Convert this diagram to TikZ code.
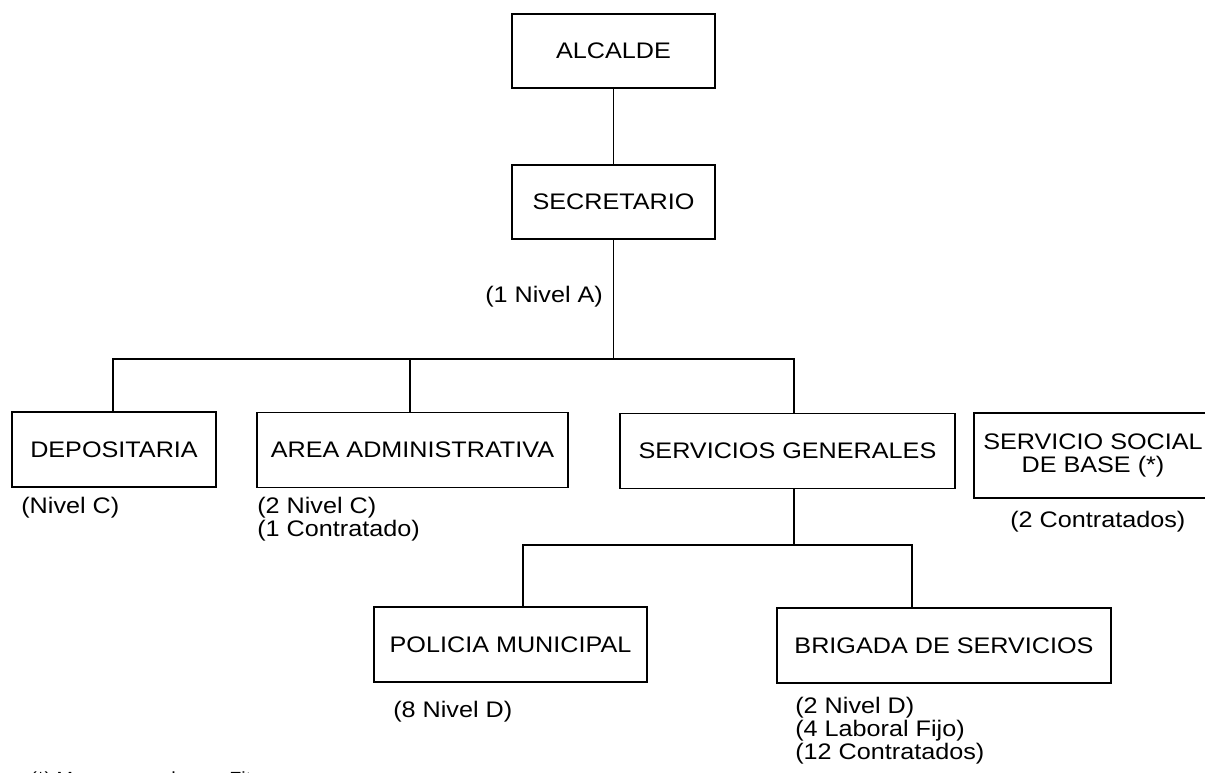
\documentclass[tikz,border=0pt]{standalone}
\usepackage{fontspec}
\setmainfont{Liberation Sans}[FakeStretch=1.12]
\usetikzlibrary{calc}

\begin{document}
\begin{tikzpicture}[x=0.02cm,y=-0.02cm,
  font=\fontsize{12.8}{13.1}\selectfont,
  caja/.style={draw, line width=1pt, inner sep=0pt, align=center, minimum height=1.5cm},
  dato/.style={anchor=west, inner sep=0pt, align=left},
  linea/.style={line width=1pt}]

\useasboundingbox (0,0) rectangle (1205,773);

% cajas
\node[caja, minimum width=4.06cm, minimum height=1.48cm] (alcalde) at (613.5,51) {ALCALDE};
\node[caja, minimum width=4.06cm, minimum height=1.48cm] (secretario) at (613.5,202) {SECRETARIO};

\node[caja, minimum width=4.08cm] (depositaria) at (114,449.5) {DEPOSITARIA};
\node[caja, minimum width=6.22cm] (area) at (412.5,450) {AREA ADMINISTRATIVA};
\node[caja, minimum width=6.7cm] (servicios) at (787.5,451) {SERVICIOS GENERALES};
\node[caja, minimum width=4.76cm, minimum height=1.7cm] (social) at (1093,455.5) {SERVICIO SOCIAL\\DE BASE (*)};

\node[caja, minimum width=5.46cm] (policia) at (510.5,644.5) {POLICIA MUNICIPAL};
\node[caja, minimum width=6.68cm] (brigada) at (944,645.5) {BRIGADA DE SERVICIOS};

% personal
\node[dato] (nivelA) at (485,297) {(1 Nivel A)};
\node[dato] (depnivel) at (21,508) {(Nivel C)};
\node[dato] (areanivel) at (257,519.5) {(2 Nivel C)\\(1 Contratado)};
\node[dato] (socialnivel) at (1010,522) {(2 Contratados)};
\node[dato] (policianivel) at (393,712) {(8 Nivel D)};
\node[dato] (brigadanivel) at (795,730.5) {(2 Nivel D)\\(4 Laboral Fijo)\\(12 Contratados)};
\node[dato, anchor=base west, font=\fontsize{10}{12}\selectfont] (nota) at (30,785) {(*) Mancomunado con Fitero};

% lineas
\coordinate (bus) at (613.5,359);
\coordinate (d1) at (113,359);
\coordinate (d2) at (410,359);
\coordinate (d3) at (794,359);
\coordinate (e0) at (794,545);
\coordinate (e1) at (523,545);
\coordinate (e2) at (912,545);

\draw[linea] (alcalde) -- (secretario);
\draw[linea] (secretario) -- (bus);
\draw[linea] (d1 |- depositaria.north) -- (d1) -- (d3) -- (d3 |- servicios.north);
\draw[linea] (d2) -- (d2 |- area.north);

\draw[linea] (servicios.south -| e0) -- (e0);
\draw[linea] (e1 |- policia.north) -- (e1) -- (e2) -- (e2 |- brigada.north);

\end{tikzpicture}
\end{document}
